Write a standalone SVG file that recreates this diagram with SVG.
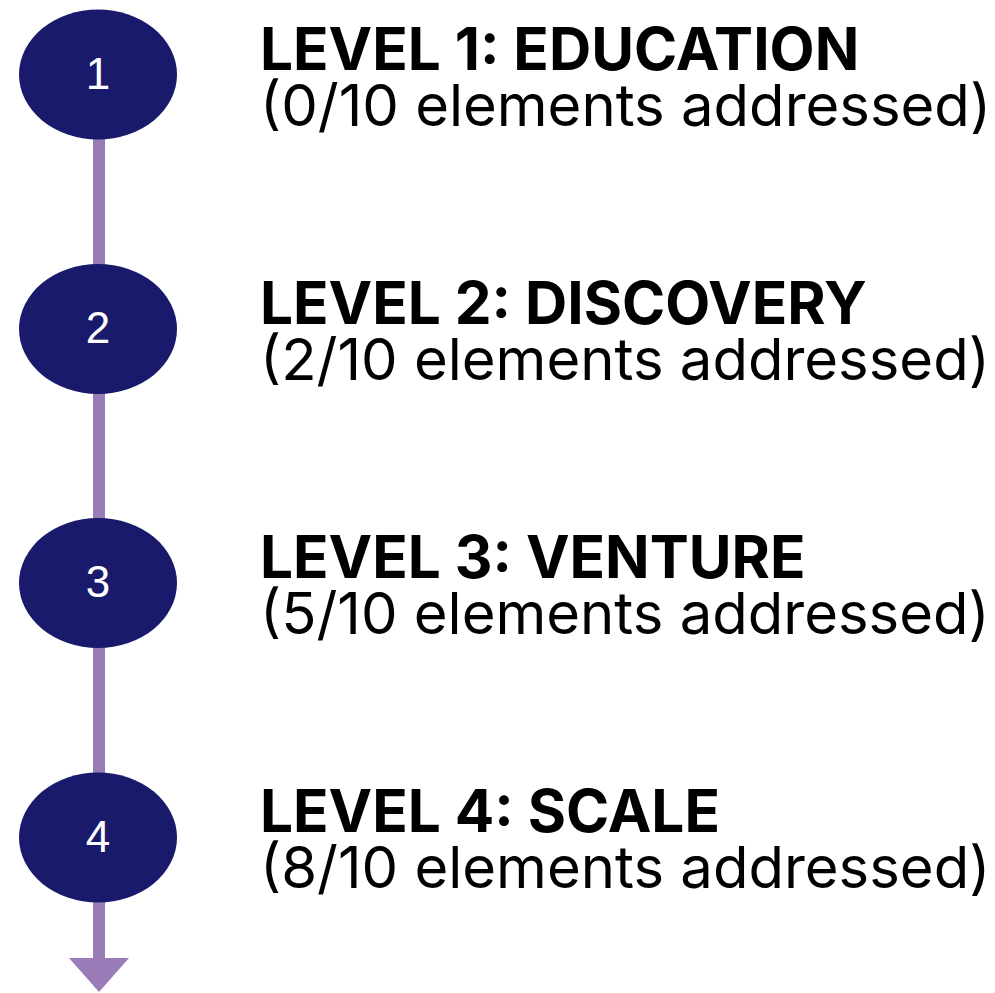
<svg xmlns="http://www.w3.org/2000/svg" width="995" height="993" viewBox="0 0 995 993">
<style>
.node{fill:#1a1a6c}
.num{fill:#fff;font-family:"Liberation Sans",Arial,sans-serif;font-size:44px;text-anchor:middle}
.title{fill:#000;font-family:Inter,"Liberation Sans",sans-serif;font-weight:700;font-size:58.5px}
.sub{fill:#000;font-family:Inter,"Liberation Sans",sans-serif;font-weight:400;font-size:58px}
.conn{stroke:#9a7db8;stroke-width:12;fill:none}
</style>
<g id="connectors">
<line class="conn" x1="99" y1="74" x2="99" y2="960"/>
<polygon points="69,958 129,958 99,992" fill="#9a7db8"/>
</g>
<g id="node1">
<ellipse class="node" cx="98" cy="74.5" rx="79" ry="65"/>
<text class="num" x="98" y="89">1</text>
<text class="title" x="260" y="70">LEVEL 1: EDUCATION</text>
<text class="sub" x="260" y="126">(0/10 elements addressed)</text>
</g>
<g id="node2">
<ellipse class="node" cx="98" cy="329" rx="79" ry="65"/>
<text class="num" x="98" y="343">2</text>
<text class="title" x="260" y="324">LEVEL 2: DISCOVERY</text>
<text class="sub" x="260" y="380">(2/10 elements addressed)</text>
</g>
<g id="node3">
<ellipse class="node" cx="98" cy="583" rx="79" ry="65"/>
<text class="num" x="98" y="597">3</text>
<text class="title" x="260" y="578">LEVEL 3: VENTURE</text>
<text class="sub" x="260" y="634">(5/10 elements addressed)</text>
</g>
<g id="node4">
<ellipse class="node" cx="98" cy="837.5" rx="79" ry="65"/>
<text class="num" x="98" y="852">4</text>
<text class="title" x="260" y="832">LEVEL 4: SCALE</text>
<text class="sub" x="260" y="888">(8/10 elements addressed)</text>
</g>
</svg>
